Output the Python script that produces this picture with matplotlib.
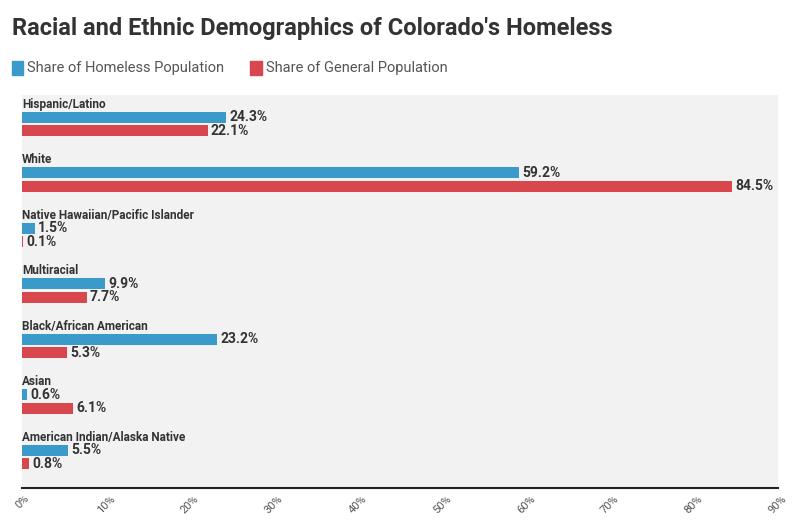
import matplotlib.pyplot as plt
from matplotlib.patches import Rectangle

plt.rcParams['font.family'] = ['Roboto', 'DejaVu Sans']

categories = ["Hispanic/Latino", "White", "Native Hawaiian/Pacific Islander", "Multiracial",
              "Black/African American", "Asian", "American Indian/Alaska Native"]
homeless = [24.3, 59.2, 1.5, 9.9, 23.2, 0.6, 5.5]
general = [22.1, 84.5, 0.1, 7.7, 5.3, 6.1, 0.8]
blue = '#3a9bca'
red = '#d9474e'

fig = plt.figure(figsize=(8, 5.25), dpi=100)
ax = fig.add_axes([0.0275, 0.0705, 0.945, 0.7485])
ax.set_facecolor('#f2f2f2')

h = 0.2
for i, cat in enumerate(categories):
    ax.barh(i, homeless[i], height=h, color=blue)
    ax.barh(i + 0.243, general[i], height=h, color=red)
    ax.text(0, i - 0.235, cat, fontsize=8.5, fontweight='bold', color='#333333', va='center')
    ax.text(homeless[i] + 0.4, i, f"{homeless[i]}%", fontsize=10, fontweight='bold', color='#333333', va='center')
    ax.text(general[i] + 0.4, i + 0.243, f"{general[i]}%", fontsize=10, fontweight='bold', color='#333333', va='center')

ax.set_xlim(0, 90)
ax.set_ylim(6.68, -0.4)
ax.set_yticks([])
ax.set_xticks(range(0, 91, 10))
ax.set_xticklabels([f"{v}%" for v in range(0, 91, 10)], rotation=45, fontsize=8, color='#555555')
for s in ['top', 'right', 'left']:
    ax.spines[s].set_visible(False)
ax.spines['bottom'].set_color('#222222')
ax.spines['bottom'].set_linewidth(1.5)
ax.tick_params(axis='x', length=0, pad=4)

fig.text(0.015, 0.945, "Racial and Ethnic Demographics of Colorado's Homeless", fontsize=17,
         fontweight='bold', color='#333333', va='center')
fig.patches.append(Rectangle((0.015, 0.857), 0.014, 0.026, transform=fig.transFigure, color=blue))
fig.text(0.034, 0.871, "Share of Homeless Population", fontsize=10.5, color='#555555', va='center')
fig.patches.append(Rectangle((0.313, 0.857), 0.014, 0.026, transform=fig.transFigure, color=red))
fig.text(0.332, 0.871, "Share of General Population", fontsize=10.5, color='#555555', va='center')

fig.savefig('out.png', dpi=100)
